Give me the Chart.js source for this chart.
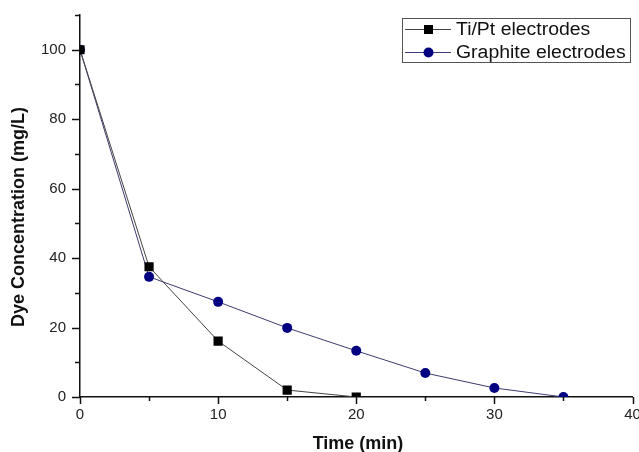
<!DOCTYPE html>
<html>
<head>
<meta charset="utf-8">
<script src="https://cdn.jsdelivr.net/npm/chart.js@4.4.0/dist/chart.umd.min.js"></script>
<style>
html,body{margin:0;padding:0;background:#fff;}
#wrap{width:639px;height:452px;}
</style>
</head>
<body>
<div id="wrap"><canvas id="c" width="639" height="452"></canvas></div>
<script>
const timeTiPt = [0, 5, 10, 15, 20];
const concTiPt = [100, 37.5, 16.1, 2.0, 0];
const timeGraphite = [0, 5, 10, 15, 20, 25, 30, 35];
const concGraphite = [100, 34.6, 27.4, 19.9, 13.3, 6.9, 2.6, 0];
const seriesNames = ['Ti/Pt electrodes', 'Graphite electrodes'];
const xTitle = 'Time (min)';
const yTitle = 'Dye Concentration (mg/L)';

const FONT = "'Liberation Sans', Arial, sans-serif";

const toXY = (xs, ys) => xs.map((x, i) => ({x: x, y: ys[i]}));

const tickPlugin = {
  id: 'originTicks',
  afterDraw(chart) {
    const ctx = chart.ctx;
    const xs = chart.scales.x, ys = chart.scales.y;
    const a = chart.chartArea;
    ctx.save();
    ctx.strokeStyle = '#111';
    ctx.lineWidth = 1.5;
    ctx.beginPath();
    for (let v = 0; v <= 110; v += 10) {
      const py = Math.round(ys.getPixelForValue(v)) + 0.5;
      const len = (v % 20 === 0) ? 8 : 5;
      ctx.moveTo(a.left, py); ctx.lineTo(a.left - len, py);
    }
    for (let v = 0; v <= 40; v += 5) {
      const px = Math.round(xs.getPixelForValue(v)) + 0.5;
      const len = (v % 10 === 0) ? 7 : 4;
      ctx.moveTo(px, a.bottom); ctx.lineTo(px, a.bottom + len);
    }
    ctx.stroke();
    // axis titles
    ctx.fillStyle = '#111';
    ctx.font = 'bold 18px ' + FONT;
    ctx.textAlign = 'center';
    ctx.textBaseline = 'middle';
    ctx.fillText(xTitle, 358, 444);
    ctx.translate(19, 217);
    ctx.rotate(-Math.PI / 2);
    ctx.fillText(yTitle, 0, 0);
    ctx.restore();
  }
};

const legendPlugin = {
  id: 'boxLegend',
  afterDraw(chart) {
    const ctx = chart.ctx;
    const x0 = 402, y0 = 18, w = 228, h = 44;
    ctx.save();
    ctx.fillStyle = '#fff';
    ctx.fillRect(x0, y0, w, h);
    ctx.strokeStyle = '#555';
    ctx.lineWidth = 1;
    ctx.strokeRect(x0 + 0.5, y0 + 0.5, w, h);
    const rows = [29, 52];
    chart.data.datasets.forEach((ds, i) => {
      const cy = rows[i];
      ctx.strokeStyle = ds.borderColor;
      ctx.lineWidth = 1;
      ctx.beginPath();
      ctx.moveTo(405, cy + 0.5); ctx.lineTo(451, cy + 0.5);
      ctx.stroke();
      ctx.fillStyle = ds.pointBackgroundColor;
      if (ds.pointStyle === 'rect') {
        ctx.fillRect(424, cy - 4, 9, 9);
      } else {
        ctx.beginPath(); ctx.arc(428.5, cy + 0.5, 5, 0, Math.PI * 2); ctx.fill();
      }
      ctx.save();
      ctx.fillStyle = '#111';
      ctx.font = '18px ' + FONT;
      ctx.textBaseline = 'middle';
      ctx.translate(456, cy + 1);
      ctx.scale(1.08, 1);
      ctx.fillText(ds.label, 0, 0);
      ctx.restore();
    });
    ctx.restore();
  }
};

new Chart(document.getElementById('c'), {
  type: 'line',
  data: {
    datasets: [
      {
        label: seriesNames[0],
        data: toXY(timeTiPt, concTiPt),
        borderColor: '#444',
        borderWidth: 1,
        pointStyle: 'rect',
        pointRadius: 6.5,
        pointBackgroundColor: '#000',
        pointBorderColor: '#000',
        pointBorderWidth: 0,
        tension: 0,
        clip: 0
      },
      {
        label: seriesNames[1],
        data: toXY(timeGraphite, concGraphite),
        borderColor: '#3c3c70',
        borderWidth: 1,
        pointStyle: 'circle',
        pointRadius: 5,
        pointBackgroundColor: '#000080',
        pointBorderColor: '#000080',
        pointBorderWidth: 0,
        tension: 0,
        clip: 0
      }
    ]
  },
  options: {
    responsive: false,
    animation: false,
    layout: {padding: {left: 0, top: 15, right: 4, bottom: 0}},
    plugins: {legend: {display: false}, tooltip: {enabled: false}},
    scales: {
      x: {
        type: 'linear', min: 0, max: 40,
        grid: {display: false, drawTicks: false},
        border: {display: true, color: '#111', width: 1.5},
        ticks: {stepSize: 5, padding: 9, color: '#222', font: {family: FONT, size: 15},
          maxRotation: 0, autoSkip: false,
          callback: v => (v % 10 === 0 ? String(v) : '')},
        title: {display: false},
        afterFit: s => { s.height = 55; s.paddingLeft = 0; s.paddingRight = 0; }
      },
      y: {
        type: 'linear', min: 0, max: 110,
        grid: {display: false, drawTicks: false},
        border: {display: true, color: '#111', width: 1.5},
        ticks: {stepSize: 10, padding: 14, color: '#222', font: {family: FONT, size: 15},
          autoSkip: false,
          callback: v => (v % 20 === 0 ? String(v) : '')},
        title: {display: false},
        afterFit: s => { s.width = 80; s.paddingTop = 0; s.paddingBottom = 0; }
      }
    }
  },
  plugins: [tickPlugin, legendPlugin]
});
</script>
</body>
</html>
